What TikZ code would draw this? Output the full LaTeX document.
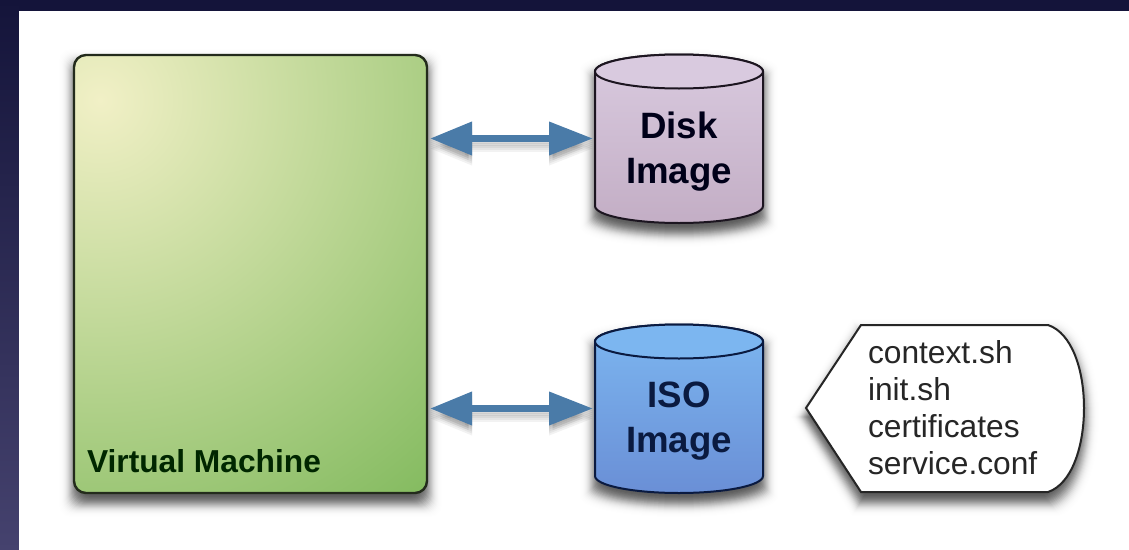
\documentclass[tikz,border=0pt]{standalone}
\usepackage{fontspec}
\setmainfont{Liberation Sans}
\usetikzlibrary{arrows.meta}
\def\u{0.75pt}
\definecolor{navytop}{HTML}{14143A}
\definecolor{navybot}{HTML}{45426E}
\definecolor{vmlight}{HTML}{F1F0C6}
\definecolor{vmdark}{HTML}{80B95C}
\definecolor{vmline}{HTML}{232B1C}
\definecolor{disktop}{HTML}{D9CADF}
\definecolor{diskbot}{HTML}{C3AEC5}
\definecolor{diskline}{HTML}{1C1520}
\definecolor{isotop}{HTML}{7CB6F0}
\definecolor{isobot}{HTML}{6A8FD6}
\definecolor{isoline}{HTML}{0A1A40}
\definecolor{arrowblue}{HTML}{4A7BA8}
\tikzset{
  anchorbox/.style={rectangle,inner sep=0pt,outer sep=0pt,draw=none},
  biarrow/.style={{Triangle[length=42*\u,width=32*\u]}-{Triangle[length=44*\u,width=32*\u]},line width=7*\u,draw=arrowblue,shorten <=3*\u,shorten >=2*\u},
  arrowshadow/.style={biarrow,draw=black,opacity=.05},
  shadowlayer/.style={fill=black,draw=none},
  bold label/.style={anchorbox,align=center,font=\fontsize{27.5}{33.75}\selectfont\bfseries},
}
% #1,#2 centre; #3,#4 width and height; #5 the path
\newcommand\softshadow[5]{%
  \foreach \ee in {-12,-11,...,20}{%
    \pgfmathsetmacro\sx{1+2*\ee/#3}%
    \pgfmathsetmacro\sy{1+2*\ee/#4}%
    \pgfmathsetmacro\op{.07*exp(-(\ee/8)*(\ee/8))}%
    \begin{scope}[shift={(#1,#2+9)},xscale=\sx,yscale=\sy,shift={(-#1,-#2)}]
      \fill[shadowlayer,fill opacity=\op] #5;
    \end{scope}%
  }%
}
\newcommand\cylbody[2]{(595,#1) -- (595,#2) arc[start angle=180,end angle=360,x radius=84*\u,y radius=17*\u] -- (763,#1) arc[start angle=0,end angle=180,x radius=84*\u,y radius=17*\u] -- cycle}
\begin{document}
\begin{tikzpicture}[x=\u,y=-\u]
\useasboundingbox (0,0) rectangle (1129,550);
% slide background
\fill[navytop] (0,0) rectangle (1129,11);
\shade[top color=navytop,bottom color=navybot] (0,0) rectangle (19,550);
\fill[white] (19,11) rectangle (1129,550);

% virtual machine
\softshadow{250.5}{274}{353}{438}{[rounded corners=12*\u] (74,55) rectangle (427,493)}
\begin{scope}
  \clip[rounded corners=12*\u] (74,55) rectangle (427,493);
  \shade[inner color=vmlight,outer color=vmdark] (100,100) circle[radius=530*\u];
\end{scope}
\draw[vmline,line width=2.4*\u,rounded corners=12*\u] (74,55) rectangle (427,493);
\node[anchorbox,minimum width=353*\u,minimum height=438*\u] (vm) at (250.5,274) {};
\node[anchorbox,anchor=base west,font=\fontsize{23.8}{28}\selectfont\bfseries,text=black!85!green] (vmlabel) at (87,472) {Virtual Machine};

% disk image
\softshadow{679}{138.5}{168}{169}{\cylbody{71.5}{206}}
\shade[top color=disktop,bottom color=diskbot,draw=diskline,line width=2*\u] \cylbody{71.5}{206};
\draw[diskline,line width=2*\u,fill=disktop] (679,71.5) ellipse[x radius=84*\u,y radius=17*\u];
\node[anchorbox,minimum width=168*\u,minimum height=169*\u] (disk) at (679,138.5) {};
\node[bold label,text=black!90!blue] (disklabel) at (679,151.5) {Disk\\Image};

% ISO image
\softshadow{679}{408.5}{168}{169}{\cylbody{341.5}{476}}
\shade[top color=isotop,bottom color=isobot,draw=isoline,line width=2*\u] \cylbody{341.5}{476};
\draw[isoline,line width=2*\u,fill=isotop] (679,341.5) ellipse[x radius=84*\u,y radius=17*\u];
\node[anchorbox,minimum width=168*\u,minimum height=169*\u] (iso) at (679,408.5) {};
\node[bold label,text=isoline] (isolabel) at (679,421.5) {ISO\\Image};

% connectors
\foreach \s in {2,4,6,8,10}{
  \begin{scope}[transform canvas={yshift=-\s*\u}]
    \draw[arrowshadow] (vm.east |- disk) -- (disk.west);
    \draw[arrowshadow] (vm.east |- iso) -- (iso.west);
  \end{scope}
}
\draw[biarrow] (vm.east |- disk) -- (disk.west);
\draw[biarrow] (vm.east |- iso) -- (iso.west);

% file list callout
\softshadow{945}{408.5}{278}{167}{(861,325) -- (1048,325) .. controls (1072,333) and (1084,370) .. (1084,408) .. controls (1084,446) and (1072,484) .. (1048,492) -- (861,492) -- (806,408) -- cycle}
\draw[black!85,fill=white,line width=2*\u,line join=miter] (861,325) -- (1048,325) .. controls (1072,333) and (1084,370) .. (1084,408) .. controls (1084,446) and (1072,484) .. (1048,492) -- (861,492) -- (806,408) -- cycle;
\node[anchorbox,anchor=west,align=left,text=black!85,font=\fontsize{23.8}{27.75}\selectfont] (files) at (868,407.5) {context.sh\\init.sh\\certificates\\service.conf};
\end{tikzpicture}
\end{document}
